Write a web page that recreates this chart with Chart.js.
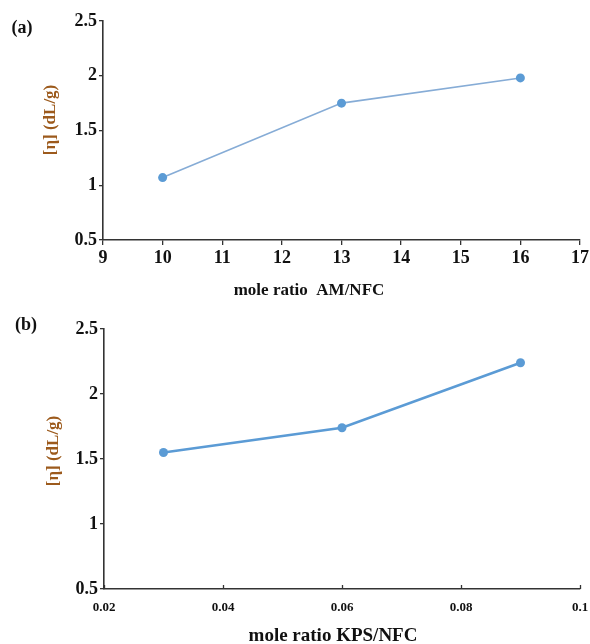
<!DOCTYPE html>
<html>
<head>
<meta charset="utf-8">
<script src="https://cdn.jsdelivr.net/npm/chart.js@4/dist/chart.umd.min.js"></script>
<style>
  html, body { margin: 0; padding: 0; background: #ffffff; }
  body { width: 590px; height: 644px; position: relative; overflow: hidden; }
  .box { position: absolute; left: 0; width: 590px; }
  #boxA { top: 0; height: 305px; }
  #boxB { top: 305px; height: 339px; }
</style>
</head>
<body>
<div class="box" id="boxA"><canvas id="chartA" width="590" height="305"></canvas></div>
<div class="box" id="boxB"><canvas id="chartB" width="590" height="339"></canvas></div>
<script>
// ---- data (a) ----
const amRatio = [10, 13, 16];
const viscA = [1.07, 1.75, 1.98];
const xTicksA = [9, 10, 11, 12, 13, 14, 15, 16, 17];

// ---- data (b) ----
const kpsRatio = [0.03, 0.06, 0.09];
const viscB = [1.55, 1.74, 2.24];
const xTicksB = [0.02, 0.04, 0.06, 0.08, 0.1];

// ---- shared ----
const yTicks = [0.5, 1, 1.5, 2, 2.5];
const yTitle = '[η] (dL/g)';
const xTitleA = 'mole ratio  AM/NFC';
const xTitleB = 'mole ratio KPS/NFC';

const SERIF = "'Liberation Serif', 'Times New Roman', serif";
const AXIS = '#333333';
const plainNum = v => String(Math.round(v * 1000) / 1000);

const freeText = {
  id: 'freeText',
  afterDraw(chart, args, opts) {
    const ctx = chart.ctx;
    (opts.items || []).forEach(it => {
      ctx.save();
      ctx.font = it.font;
      ctx.fillStyle = it.color || '#000';
      ctx.textAlign = 'center';
      ctx.textBaseline = 'middle';
      ctx.translate(it.x, it.y);
      if (it.rotate) ctx.rotate(it.rotate);
      ctx.fillText(it.text, 0, 0);
      ctx.restore();
    });
  }
};

const innerTicks = {
  id: 'innerTicks',
  afterDraw(chart, args, opts) {
    if (!opts.values) return;
    const sx = chart.scales.x;
    const ctx = chart.ctx;
    const bottom = chart.chartArea.bottom;
    ctx.save();
    ctx.strokeStyle = AXIS;
    ctx.lineWidth = 1.3;
    opts.values.forEach(v => {
      const px = Math.round(sx.getPixelForValue(v)) + 0.5;
      ctx.beginPath();
      ctx.moveTo(px, bottom);
      ctx.lineTo(px, bottom - 4);
      ctx.stroke();
    });
    ctx.restore();
  }
};

function makeChart(id, xs, ys, xTicks, cfg) {
  const pts = xs.map((x, i) => ({ x: x, y: ys[i] }));
  return new Chart(document.getElementById(id), {
    type: 'line',
    data: {
      datasets: [{
        data: pts,
        borderColor: cfg.lineColor,
        borderWidth: cfg.lineWidth,
        backgroundColor: '#5b9bd5',
        pointBackgroundColor: '#5b9bd5',
        pointBorderColor: '#5b9bd5',
        pointRadius: 4.5,
        pointBorderWidth: 0,
        tension: 0,
        fill: false
      }]
    },
    options: {
      responsive: false,
      animation: false,
      events: [],
      layout: { padding: cfg.padding },
      plugins: {
        legend: { display: false },
        tooltip: { enabled: false },
        freeText: { items: cfg.texts },
        innerTicks: { values: cfg.innerX ? xTicks : null }
      },
      scales: {
        x: {
          type: 'linear',
          min: xTicks[0],
          max: xTicks[xTicks.length - 1],
          afterBuildTicks: s => { s.ticks = xTicks.map(v => ({ value: v })); },
          afterFit: s => { s.height = cfg.xHeight; s.paddingLeft = 0; s.paddingRight = 10; },
          grid: {
            display: !cfg.innerX,
            drawOnChartArea: false,
            drawTicks: true,
            tickLength: cfg.innerX ? 0 : 5,
            color: AXIS,
            lineWidth: 1.3
          },
          border: { display: true, color: AXIS, width: 1.6 },
          ticks: {
            color: '#111',
            font: { family: SERIF, size: cfg.xTickSize, weight: 'bold' },
            padding: cfg.xTickPad,
            maxRotation: 0,
            autoSkip: false,
            callback: plainNum
          }
        },
        y: {
          type: 'linear',
          min: yTicks[0],
          max: yTicks[yTicks.length - 1],
          afterBuildTicks: s => { s.ticks = yTicks.map(v => ({ value: v })); },
          afterFit: s => { s.width = cfg.yWidth; },
          grid: {
            drawOnChartArea: false,
            drawTicks: true,
            tickLength: 4,
            color: AXIS,
            lineWidth: 1.3
          },
          border: { display: true, color: AXIS, width: 1.6 },
          ticks: {
            color: '#111',
            font: { family: SERIF, size: 18, weight: 'bold' },
            padding: 2,
            callback: plainNum
          }
        }
      }
    },
    plugins: [freeText, innerTicks]
  });
}

makeChart('chartA', amRatio, viscA, xTicksA, {
  lineColor: '#86acd6',
  lineWidth: 1.6,
  padding: { left: 0, right: 10, top: 21, bottom: 0 },
  xHeight: 65,
  yWidth: 103,
  xTickSize: 18,
  xTickPad: 3,
  innerX: false,
  texts: [
    { text: '(a)', x: 22, y: 28, font: 'bold 18px ' + SERIF, color: '#111' },
    { text: xTitleA, x: 309, y: 291, font: 'bold 17px ' + SERIF, color: '#111' },
    { text: yTitle, x: 51, y: 120, rotate: -Math.PI / 2, font: 'bold 17px ' + SERIF, color: '#9c5a1c' }
  ]
});

makeChart('chartB', kpsRatio, viscB, xTicksB, {
  lineColor: '#5b9bd5',
  lineWidth: 2.6,
  padding: { left: 0, right: 10, top: 24, bottom: 0 },
  xHeight: 55,
  yWidth: 104,
  xTickSize: 13,
  xTickPad: 11,
  innerX: true,
  texts: [
    { text: '(b)', x: 26, y: 20, font: 'bold 18px ' + SERIF, color: '#111' },
    { text: xTitleB, x: 333, y: 331, font: 'bold 19px ' + SERIF, color: '#111' },
    { text: yTitle, x: 54, y: 146, rotate: -Math.PI / 2, font: 'bold 17px ' + SERIF, color: '#9c5a1c' }
  ]
});
</script>
</body>
</html>
